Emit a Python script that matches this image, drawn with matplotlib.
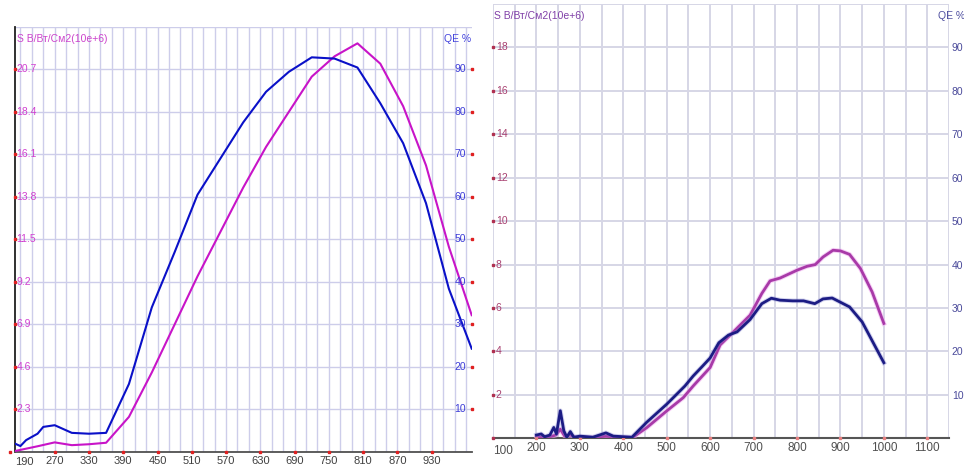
import numpy as np
import matplotlib
matplotlib.use('Agg')
import matplotlib.pyplot as plt

plt.rcParams['font.family'] = ['Liberation Sans', 'DejaVu Sans']

# левая панель: длина волны, нм
l_nm_qe = [200, 210, 220, 240, 250, 270, 300, 330, 360, 400, 440, 480, 520, 560, 600,
           640, 680, 720, 760, 800, 840, 880, 920, 960, 1000]
l_qe = [2.0, 1.4, 2.8, 4.3, 5.9, 6.3, 4.5, 4.3, 4.5, 16.0, 34.0, 47.0, 60.5, 69.0, 77.5,
        84.7, 89.4, 92.8, 92.5, 90.4, 82.0, 72.6, 58.5, 38.4, 24.3]
l_nm_s = [200, 220, 240, 270, 300, 330, 360, 400, 440, 480, 520, 560, 600, 640, 680,
          720, 760, 800, 840, 880, 920, 960, 1000]
l_s = [0.05, 0.18, 0.31, 0.52, 0.37, 0.42, 0.5, 1.9, 4.3, 6.9, 9.5, 11.9, 14.3, 16.5, 18.4,
       20.3, 21.4, 22.1, 21.0, 18.7, 15.5, 11.1, 7.4]

l_s_ticks = [2.3, 4.6, 6.9, 9.2, 11.5, 13.8, 16.1, 18.4, 20.7]
l_qe_ticks = [10, 20, 30, 40, 50, 60, 70, 80, 90]
l_x_ticks = [270, 330, 390, 450, 510, 570, 630, 690, 750, 810, 870, 930]

# правая панель
r_nm_qe = [200, 211, 219, 231, 240, 246, 255, 263, 270, 278, 286, 300, 330, 360, 377, 420,
           454, 500, 523, 542, 561, 581, 600, 620, 642, 662, 692, 719, 741, 761, 790, 815,
           841, 860, 881, 921, 950, 1000]
r_qe = [0.75, 1.0, 0.35, 0.75, 2.5, 1.0, 6.35, 1.75, 0.25, 1.55, 0.25, 0.5, 0.25, 1.25, 0.5,
        0.25, 3.7, 7.85, 10.15, 12.05, 14.35, 16.45, 18.5, 22.0, 23.75, 24.5, 27.35, 31.0,
        32.25, 31.8, 31.65, 31.65, 31.0, 32.1, 32.3, 30.25, 26.8, 17.4]
r_nm_s = [200, 230, 245, 255, 265, 278, 290, 300, 330, 360, 380, 420, 454, 500, 538, 561,
          600, 623, 646, 692, 719, 738, 761, 800, 823, 842, 860, 883, 900, 921, 946, 973, 1000]
r_s = [0.05, 0.07, 0.15, 0.42, 0.1, 0.15, 0.03, 0.05, 0.03, 0.1, 0.05, 0.02, 0.49, 1.26,
       1.87, 2.41, 3.26, 4.3, 4.75, 5.67, 6.67, 7.25, 7.38, 7.74, 7.92, 8.0, 8.35, 8.66,
       8.63, 8.47, 7.82, 6.74, 5.29]

r_s_ticks = [2, 4, 6, 8, 10, 12, 14, 16, 18]
r_qe_ticks = [10, 20, 30, 40, 50, 60, 70, 80, 90]
r_x_ticks = [200, 300, 400, 500, 600, 700, 800, 900, 1000, 1100]

W, H = 964, 466
fig = plt.figure(figsize=(W / 100, H / 100), dpi=100)


def box(x0, y0, x1, y1):
    return [x0 / W, 1 - y1 / H, (x1 - x0) / W, (y1 - y0) / H]


# ---------- левый график ----------
ax = fig.add_axes(box(14.7, 26.7, 471.7, 452))
ax.set_xlim(200, 1000)
ax.set_ylim(0, 23)
ax.set_xticks(l_x_ticks)
ax.set_xticks(np.arange(210, 1000, 20), minor=True)
ax.set_yticks(np.arange(0, 23.01, 2.3))
ax.set_yticklabels([])
ax.grid(True, which='both', color='#cdcdea', lw=1.0)
ax.set_axisbelow(True)
ax.tick_params(axis='both', which='both', length=0)
ax.tick_params(axis='x', pad=3, labelsize=8, labelcolor='#404040')
for sp in ['top', 'right']:
    ax.spines[sp].set_visible(False)
ax.spines['left'].set_color('#202020')
ax.spines['left'].set_linewidth(1.3)
ax.spines['bottom'].set_color('#505050')
ax.spines['bottom'].set_linewidth(1.3)

ax.plot(l_nm_s, l_s, color='#c814c8', lw=1.5, zorder=3)
axr = ax.twinx()
axr.set_ylim(0, 100)
axr.set_yticks([])
for sp in axr.spines.values():
    sp.set_visible(False)
axr.plot(l_nm_qe, l_qe, color='#0a10c8', lw=1.5, zorder=3)

dot = dict(marker='s', ls='none', ms=1.8, clip_on=False, zorder=5)
yt = ax.get_yaxis_transform()
for v in l_s_ticks:
    ax.text(0.004, v, f'{v:.1f}', transform=yt, ha='left', va='center',
            fontsize=7.5, color='#d040d0')
ax.plot([200] * len(l_s_ticks), l_s_ticks, color='#e02020', **dot)
yr = axr.get_yaxis_transform()
for v in l_qe_ticks:
    axr.text(0.988, v, str(v), transform=yr, ha='right', va='center',
             fontsize=7.5, color='#3c3cd8')
axr.plot([1000] * len(l_qe_ticks), l_qe_ticks, color='#e02020', **dot)
ax.plot(l_x_ticks, [0] * len(l_x_ticks), color='#e02020', **dot)
ax.plot([191], [0], color='#e02020', **dot)
ax.text(217, -0.012, '190', transform=ax.get_xaxis_transform(), ha='center', va='top',
        fontsize=8, color='#404040')
ax.text(0.004, 0.97, 'S В/Вт/См2(10e+6)', transform=ax.transAxes, ha='left', va='center',
        fontsize=7.5, color='#cc44cc')
ax.text(0.998, 0.97, 'QE %', transform=ax.transAxes, ha='right', va='center',
        fontsize=7.5, color='#4444dd')

# ---------- правый график ----------
bx = fig.add_axes(box(493, 4, 949, 438.3))
bx.set_xlim(100, 1150)
bx.set_ylim(0, 20)
bx.set_xticks(r_x_ticks)
bx.set_xticks(np.arange(100, 1151, 50), minor=True)
bx.set_yticks(np.arange(0, 20.01, 2))
bx.set_yticklabels([])
bx.grid(True, which='both', color='#d6d6e6', lw=1.4)
bx.set_axisbelow(True)
bx.tick_params(axis='both', which='both', length=0)
bx.tick_params(axis='x', pad=3, labelsize=8.5, labelcolor='#505050')
for sp in ['top', 'right', 'left']:
    bx.spines[sp].set_visible(False)
bx.spines['bottom'].set_color('#555555')
bx.spines['bottom'].set_linewidth(1.5)

bx.plot(r_nm_s, r_s, color='#f0b0f0', lw=3.4, alpha=0.6, zorder=3)
bx.plot(r_nm_s, r_s, color='#a83aa8', lw=2.0, zorder=3)
bxr = bx.twinx()
bxr.set_ylim(0, 100)
bxr.set_yticks(r_qe_ticks)
bxr.tick_params(axis='y', length=0, pad=2, labelsize=7.5, labelcolor='#4a4a9a')
for sp in bxr.spines.values():
    sp.set_visible(False)
bxr.plot(r_nm_qe, r_qe, color='#8080d0', lw=3.4, alpha=0.35, zorder=3)
bxr.plot(r_nm_qe, r_qe, color='#1c1c84', lw=2.0, zorder=3)

yt2 = bx.get_yaxis_transform()
for v in r_s_ticks:
    bx.text(0.006, v, str(v), transform=yt2, ha='left', va='center',
            fontsize=7.5, color='#a84070')
bx.plot([100] * (len(r_s_ticks) + 1), [0] + r_s_ticks, color='#b03050', **dot)
bx.plot(r_x_ticks, [0] * len(r_x_ticks), color='#e88080', **dot)
bx.text(122, -0.016, '100', transform=bx.get_xaxis_transform(), ha='center', va='top',
        fontsize=8.5, color='#505050')
bx.text(0.002, 0.973, 'S В/Вт/См2(10e+6)', transform=bx.transAxes, ha='left', va='center',
        fontsize=7.5, color='#8040a8')
bx.text(1.035, 0.973, 'QE %', transform=bx.transAxes, ha='right', va='center',
        fontsize=7.5, color='#5050a0', clip_on=False)

fig.savefig('out.png', dpi=100)
